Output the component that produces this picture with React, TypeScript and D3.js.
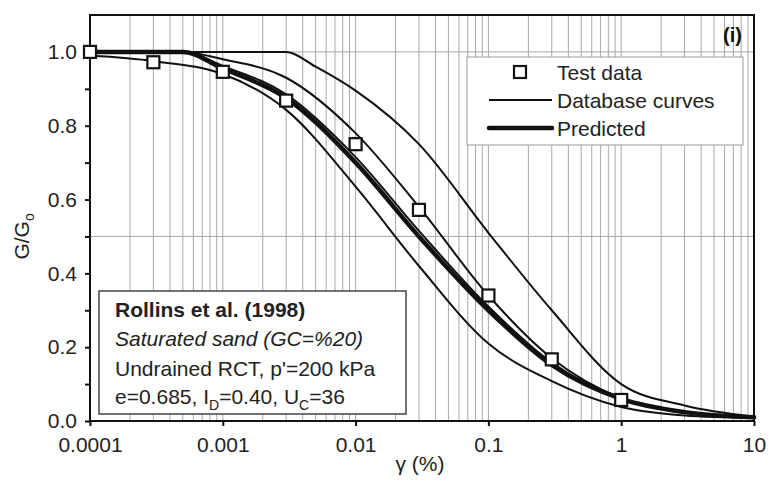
import React from "react";
import * as d3 from "d3";

const W = 769;
const H = 481;

// x ticks and labels
const xTickValues = [0.0001, 0.001, 0.01, 0.1, 1, 10];
const xTickLabels = ["0.0001", "0.001", "0.01", "0.1", "1", "10"];
const yTickValues = [0, 0.2, 0.4, 0.6, 0.8, 1.0];
const yMinorTicks = [0.1, 0.3, 0.5, 0.7, 0.9];
const yGridValues = [0.5, 1.0];

// test data (Rollins et al. 1998)
const testStrain = [0.0001, 0.0003, 0.001, 0.003, 0.01, 0.03, 0.1, 0.3, 1];
const testRatio = [1.0, 0.972, 0.946, 0.868, 0.75, 0.572, 0.34, 0.167, 0.057];

// database curves
const dbStrainA = [0.0001, 0.003, 0.005, 0.01, 0.03, 0.1, 0.3, 1, 3, 10];
const dbRatioA = [1, 1, 0.96, 0.895, 0.75, 0.51, 0.3, 0.1, 0.042, 0.012];

const dbStrainB = [0.0001, 0.0005, 0.001, 0.003, 0.01, 0.03, 0.1, 0.3, 1, 3, 10];
const dbRatioB = [1, 1, 0.98, 0.93, 0.78, 0.58, 0.34, 0.17, 0.062, 0.025, 0.01];

const dbStrainC = [0.0001, 0.0005, 0.001, 0.003, 0.01, 0.03, 0.1, 0.3, 1, 3, 10];
const dbRatioC = [1, 1, 0.962, 0.885, 0.715, 0.515, 0.31, 0.158, 0.061, 0.024, 0.01];

const dbStrainD = [0.0001, 0.0003, 0.001, 0.003, 0.01, 0.03, 0.1, 0.3, 1, 3, 10];
const dbRatioD = [0.99, 0.975, 0.94, 0.843, 0.635, 0.42, 0.21, 0.108, 0.038, 0.015, 0.008];

// predicted curve
const predStrain = [0.0001, 0.0005, 0.001, 0.003, 0.01, 0.03, 0.1, 0.3, 1, 3, 10];
const predRatio = [1, 1, 0.955, 0.875, 0.7, 0.5, 0.3, 0.152, 0.06, 0.024, 0.01];

const legendItems = ["Test data", "Database curves", "Predicted"];

const FONT = "Arial, 'Liberation Sans', Helvetica, sans-serif";

export default function App() {
    const ref = React.useRef<SVGSVGElement>(null);

    React.useEffect(() => {
        drawChart();
    }, []);

    function drawChart() {
        const svg = d3.select(ref.current);
        svg.selectAll("*").remove();

        const plot = { left: 90, right: 754, top: 15, bottom: 421 };

        const x = d3.scaleLog().domain([0.0001, 10]).range([plot.left, plot.right]);
        const y = d3.scaleLinear().domain([0, 1.1]).range([plot.bottom, plot.top]);

        svg.append("rect").attr("width", W).attr("height", H).attr("fill", "white");

        // vertical gridlines (all 1-9 x decade)
        const gridX = x.ticks().filter((d) => d > 0.0001 && d < 10);
        svg.append("g")
            .selectAll("line")
            .data(gridX)
            .enter()
            .append("line")
            .attr("x1", (d) => x(d))
            .attr("x2", (d) => x(d))
            .attr("y1", plot.top)
            .attr("y2", plot.bottom)
            .attr("stroke", "#a8a8a8")
            .attr("stroke-width", 1);

        svg.append("g")
            .selectAll("line")
            .data(yGridValues)
            .enter()
            .append("line")
            .attr("x1", plot.left)
            .attr("x2", plot.right)
            .attr("y1", (d) => y(d))
            .attr("y2", (d) => y(d))
            .attr("stroke", "#a8a8a8")
            .attr("stroke-width", 1);

        // axes
        const xAxis = d3
            .axisBottom(x)
            .tickValues(xTickValues)
            .tickSize(5)
            .tickPadding(11)
            .tickFormat((d, i) => xTickLabels[i]);
        const gx = svg
            .append("g")
            .attr("transform", `translate(0,${plot.bottom})`)
            .call(xAxis);

        const yAxis = d3
            .axisLeft(y)
            .tickValues(yTickValues)
            .tickSize(5)
            .tickPadding(8)
            .tickFormat(d3.format(".1f"));
        const gy = svg
            .append("g")
            .attr("transform", `translate(${plot.left},0)`)
            .call(yAxis);

        const yMinor = d3.axisLeft(y).tickValues(yMinorTicks).tickSize(5).tickFormat(() => "");
        const gyMinor = svg
            .append("g")
            .attr("transform", `translate(${plot.left},0)`)
            .call(yMinor);

        [gx, gy, gyMinor].forEach((g) => {
            g.select(".domain").remove();
            g.selectAll(".tick line").attr("stroke", "#111").attr("stroke-width", 2);
            g.selectAll(".tick text")
                .attr("font-family", FONT)
                .attr("font-size", 21)
                .attr("fill", "#222");
        });

        // frame
        svg.append("rect")
            .attr("x", plot.left)
            .attr("y", plot.top)
            .attr("width", plot.right - plot.left)
            .attr("height", plot.bottom - plot.top)
            .attr("fill", "none")
            .attr("stroke", "#111")
            .attr("stroke-width", 2);

        // annotation box
        const box = svg.append("g");
        box.append("rect")
            .attr("x", 99)
            .attr("y", 291)
            .attr("width", 307)
            .attr("height", 123)
            .attr("fill", "white")
            .attr("stroke", "#444")
            .attr("stroke-width", 1.5);

        const boxText = box
            .append("text")
            .attr("font-family", FONT)
            .attr("font-size", 21)
            .attr("fill", "#222");
        boxText.append("tspan").attr("x", 115).attr("y", 317).attr("font-weight", "bold").text("Rollins et al. (1998)");
        boxText.append("tspan").attr("x", 115).attr("y", 346).attr("font-style", "italic").text("Saturated sand (GC=%20)");
        boxText.append("tspan").attr("x", 115).attr("y", 376).text("Undrained RCT, p'=200 kPa");
        const l4 = boxText.append("tspan").attr("x", 115).attr("y", 404);
        l4.append("tspan").text("e=0.685, I");
        l4.append("tspan").attr("font-size", 14).attr("dy", 6).text("D");
        l4.append("tspan").attr("dy", -6).text("=0.40, U");
        l4.append("tspan").attr("font-size", 14).attr("dy", 6).text("C");
        l4.append("tspan").attr("dy", -6).text("=36");

        // legend
        const lg = svg.append("g");
        lg.append("rect")
            .attr("x", 467)
            .attr("y", 57)
            .attr("width", 276)
            .attr("height", 88)
            .attr("fill", "white")
            .attr("stroke", "#999")
            .attr("stroke-width", 1);
        const rowY = [72, 100, 128];
        lg.append("rect")
            .attr("x", 514)
            .attr("y", rowY[0] - 6)
            .attr("width", 12)
            .attr("height", 12)
            .attr("fill", "white")
            .attr("stroke", "#111")
            .attr("stroke-width", 2.2);
        lg.append("line")
            .attr("x1", 489).attr("x2", 552)
            .attr("y1", rowY[1]).attr("y2", rowY[1])
            .attr("stroke", "#111").attr("stroke-width", 2);
        lg.append("line")
            .attr("x1", 489).attr("x2", 552)
            .attr("y1", rowY[2]).attr("y2", rowY[2])
            .attr("stroke", "#111").attr("stroke-width", 4.5)
            .attr("stroke-linecap", "round");
        lg.selectAll("text.leg")
            .data(legendItems)
            .enter()
            .append("text")
            .attr("class", "leg")
            .attr("x", 557)
            .attr("y", (d, i) => rowY[i] + 7.5)
            .attr("font-family", FONT)
            .attr("font-size", 21)
            .attr("fill", "#222")
            .text((d) => d);

        // curves
        const line = d3
            .line<[number, number]>()
            .x((d) => x(d[0]))
            .y((d) => y(d[1]))
            .curve(d3.curveMonotoneX);

        const zip = (a: number[], b: number[]) => a.map((v, i) => [v, b[i]] as [number, number]);

        const dbCurves = [
            zip(dbStrainA, dbRatioA),
            zip(dbStrainB, dbRatioB),
            zip(dbStrainC, dbRatioC),
            zip(dbStrainD, dbRatioD),
        ];

        svg.append("g")
            .selectAll("path")
            .data(dbCurves)
            .enter()
            .append("path")
            .attr("d", (d) => line(d))
            .attr("fill", "none")
            .attr("stroke", "#111")
            .attr("stroke-width", 2);

        svg.append("path")
            .datum(zip(predStrain, predRatio))
            .attr("d", line)
            .attr("fill", "none")
            .attr("stroke", "#111")
            .attr("stroke-width", 4.5)
            .attr("stroke-linecap", "round");

        // test data markers
        svg.append("g")
            .selectAll("rect")
            .data(zip(testStrain, testRatio))
            .enter()
            .append("rect")
            .attr("x", (d) => x(d[0]) - 6)
            .attr("y", (d) => y(d[1]) - 6)
            .attr("width", 12)
            .attr("height", 12)
            .attr("fill", "white")
            .attr("stroke", "#111")
            .attr("stroke-width", 2.2);

        // panel label
        svg.append("text")
            .attr("x", 742)
            .attr("y", 42)
            .attr("text-anchor", "end")
            .attr("font-family", FONT)
            .attr("font-size", 20)
            .attr("font-weight", "bold")
            .attr("fill", "#111")
            .text("(i)");

        // axis titles
        const yt = svg
            .append("text")
            .attr("transform", `translate(29,${y(0.5)}) rotate(-90)`)
            .attr("text-anchor", "middle")
            .attr("font-family", FONT)
            .attr("font-size", 21)
            .attr("fill", "#222");
        yt.append("tspan").text("G/G");
        yt.append("tspan").attr("font-size", 14).attr("dy", 5).text("o");

        svg.append("text")
            .attr("x", 420)
            .attr("y", 471)
            .attr("text-anchor", "middle")
            .attr("font-family", FONT)
            .attr("font-size", 21)
            .attr("fill", "#222")
            .text("γ (%)");
    }

    return (
        <svg
            ref={ref}
            width={W}
            height={H}
            style={{ position: "absolute", left: 0, top: 0 }}
        />
    );
}
